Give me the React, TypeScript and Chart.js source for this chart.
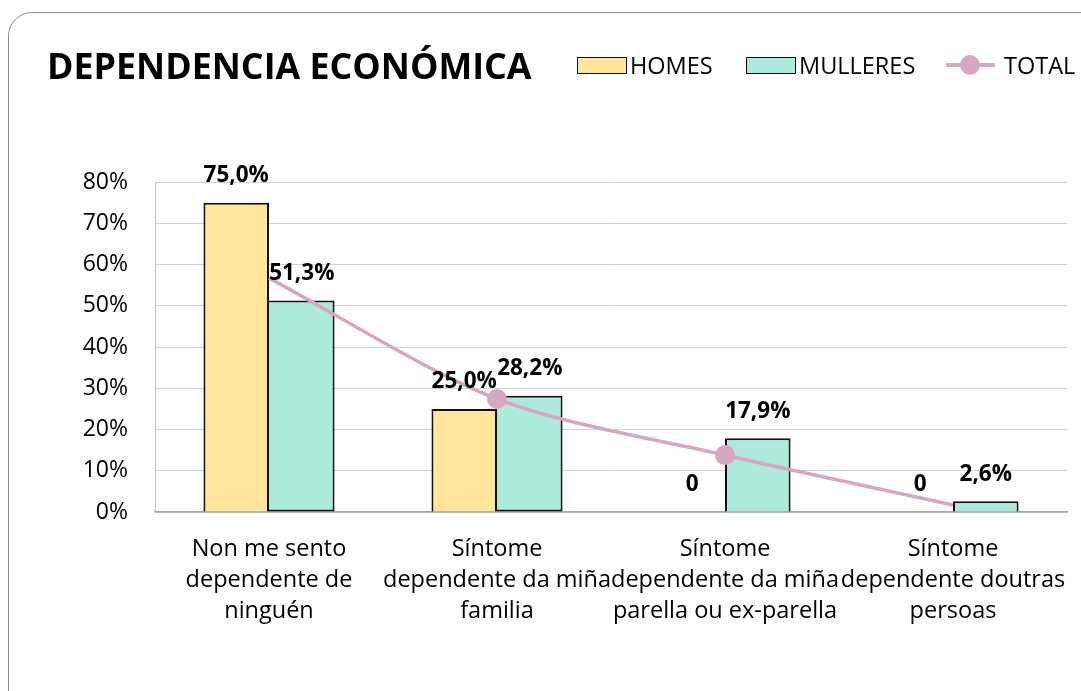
import React, { useEffect, useRef } from "react";
import { Chart, registerables } from "chart.js";

Chart.register(...registerables);

const categories: string[][] = [
  ["Non me sento", "dependente de", "ninguén"],
  ["Síntome", "dependente da miña", "familia"],
  ["Síntome", "dependente da miña", "parella ou ex-parella"],
  ["Síntome", "dependente doutras", "persoas"],
];
const homes = [75.0, 25.0, 0, 0];
const mulleres = [51.3, 28.2, 17.9, 2.6];
const total = [56.7, 27.4, 13.8, 1.7];
const totalPointRadius = [0, 10, 10, 0];
const yMin = 0;
const yMax = 80;
const yStep = 10;

const title = "DEPENDENCIA ECONÓMICA";
const legendLabels = ["HOMES", "MULLERES", "TOTAL"];

const HOMES_COLOR = "#FFE49B";
const MULLERES_COLOR = "#AEEADB";
const TOTAL_COLOR = "#D7A7C1";
const FONT = "'Open Sans', sans-serif";

const fmt = (v: number) => (v === 0 ? "0" : v.toFixed(1).replace(".", ",") + "%");

const labelPlugin = {
  id: "barLabels",
  afterDatasetsDraw(chart: any) {
    const ctx = chart.ctx;
    ctx.save();
    ctx.font = `bold 22.5px ${FONT}`;
    ctx.fillStyle = "#000";
    ctx.textAlign = "center";
    ctx.textBaseline = "middle";
    [0, 1].forEach((di) => {
      const meta = chart.getDatasetMeta(di);
      const data = chart.data.datasets[di].data as number[];
      meta.data.forEach((el: any, i: number) => {
        ctx.fillText(fmt(data[i]), el.x, el.y - 27);
      });
    });
    ctx.restore();
  },
};

export default function App() {
  const canvasRef = useRef<HTMLCanvasElement>(null);

  useEffect(() => {
    document.body.style.margin = "0";
    const chart = new Chart(canvasRef.current!, {
      type: "bar",
      data: {
        labels: categories,
        datasets: [
          {
            type: "bar",
            label: legendLabels[0],
            data: homes,
            backgroundColor: HOMES_COLOR,
            borderColor: "#111",
            borderWidth: 2,
            barPercentage: 1,
            categoryPercentage: 0.575,
            order: 1,
          },
          {
            type: "bar",
            label: legendLabels[1],
            data: mulleres,
            backgroundColor: MULLERES_COLOR,
            borderColor: "#111",
            borderWidth: 2,
            borderSkipped: (c: any) => (homes[c.dataIndex] > 0 ? "left" : "start"),
            barPercentage: 1,
            categoryPercentage: 0.575,
            order: 1,
          } as any,
          {
            type: "line",
            label: legendLabels[2],
            data: total,
            borderColor: TOTAL_COLOR,
            backgroundColor: TOTAL_COLOR,
            borderWidth: 3.5,
            pointRadius: totalPointRadius,
            pointHoverRadius: totalPointRadius,
            pointBorderWidth: 0,
            tension: 0.3,
            order: 0,
          } as any,
        ],
      },
      options: {
        responsive: false,
        animation: false,
        layout: { padding: { left: 0, right: 14, top: 182, bottom: 0 } },
        plugins: {
          legend: { display: false },
          title: { display: false },
          tooltip: { enabled: false },
        },
        scales: {
          x: {
            grid: { display: false, drawTicks: false },
            border: { display: true, color: "#A6A6A6", width: 1.5 },
            ticks: {
              autoSkip: false,
              maxRotation: 0,
              minRotation: 0,
              padding: 22,
              color: "#000",
              font: { family: FONT, size: 23.5, lineHeight: 1.32 },
            },
            afterFit(scale: any) {
              scale.height = 179;
              scale.paddingLeft = 0;
              scale.paddingRight = 0;
            },
          },
          y: {
            min: yMin,
            max: yMax,
            grid: { color: "#D0D0D0", lineWidth: 1, drawTicks: false },
            border: { display: true, color: "#BFBFBF", width: 1 },
            ticks: {
              stepSize: yStep,
              padding: 27,
              color: "#000",
              font: { family: FONT, size: 23 },
              callback: (v: any) => `${v}%`,
            },
            afterFit(scale: any) {
              scale.width = 155;
              scale.paddingTop = 0;
              scale.paddingBottom = 0;
            },
          },
        },
      },
      plugins: [labelPlugin],
    });
    return () => chart.destroy();
  }, []);

  const legendText: React.CSSProperties = {
    position: "absolute",
    top: 49,
    fontFamily: FONT,
    fontSize: 23.5,
    lineHeight: "32px",
    color: "#000",
    whiteSpace: "nowrap",
  };
  const swatch = (left: number, color: string): React.CSSProperties => ({
    position: "absolute",
    left,
    top: 57,
    width: 48,
    height: 15,
    background: color,
    border: "1.5px solid #111",
  });

  return (
    <div
      style={{
        position: "fixed",
        left: 0,
        top: 0,
        width: 1081,
        height: 691,
        background: "#fff",
        overflow: "hidden",
      }}
    >
      <div
        style={{
          position: "absolute",
          left: 8,
          top: 12,
          width: 1110,
          height: 710,
          border: "1.5px solid #8c8c8c",
          borderRadius: 24,
          boxSizing: "border-box",
        }}
      />
      <canvas
        ref={canvasRef}
        width={1081}
        height={691}
        style={{ position: "absolute", left: 0, top: 0 }}
      />
      <div
        style={{
          position: "absolute",
          left: 47,
          top: 39,
          fontFamily: FONT,
          fontWeight: 700,
          fontSize: 35.8,
          lineHeight: "52px",
          color: "#000",
          whiteSpace: "nowrap",
        }}
      >
        {title}
      </div>
      <div style={swatch(577, HOMES_COLOR)} />
      <div style={{ ...legendText, left: 630 }}>{legendLabels[0]}</div>
      <div style={swatch(746, MULLERES_COLOR)} />
      <div style={{ ...legendText, left: 799 }}>{legendLabels[1]}</div>
      <div
        style={{
          position: "absolute",
          left: 946,
          top: 63,
          width: 49,
          height: 4,
          background: TOTAL_COLOR,
        }}
      />
      <div
        style={{
          position: "absolute",
          left: 960,
          top: 55,
          width: 20,
          height: 20,
          borderRadius: 10,
          background: TOTAL_COLOR,
        }}
      />
      <div style={{ ...legendText, left: 1004 }}>{legendLabels[2]}</div>
    </div>
  );
}
